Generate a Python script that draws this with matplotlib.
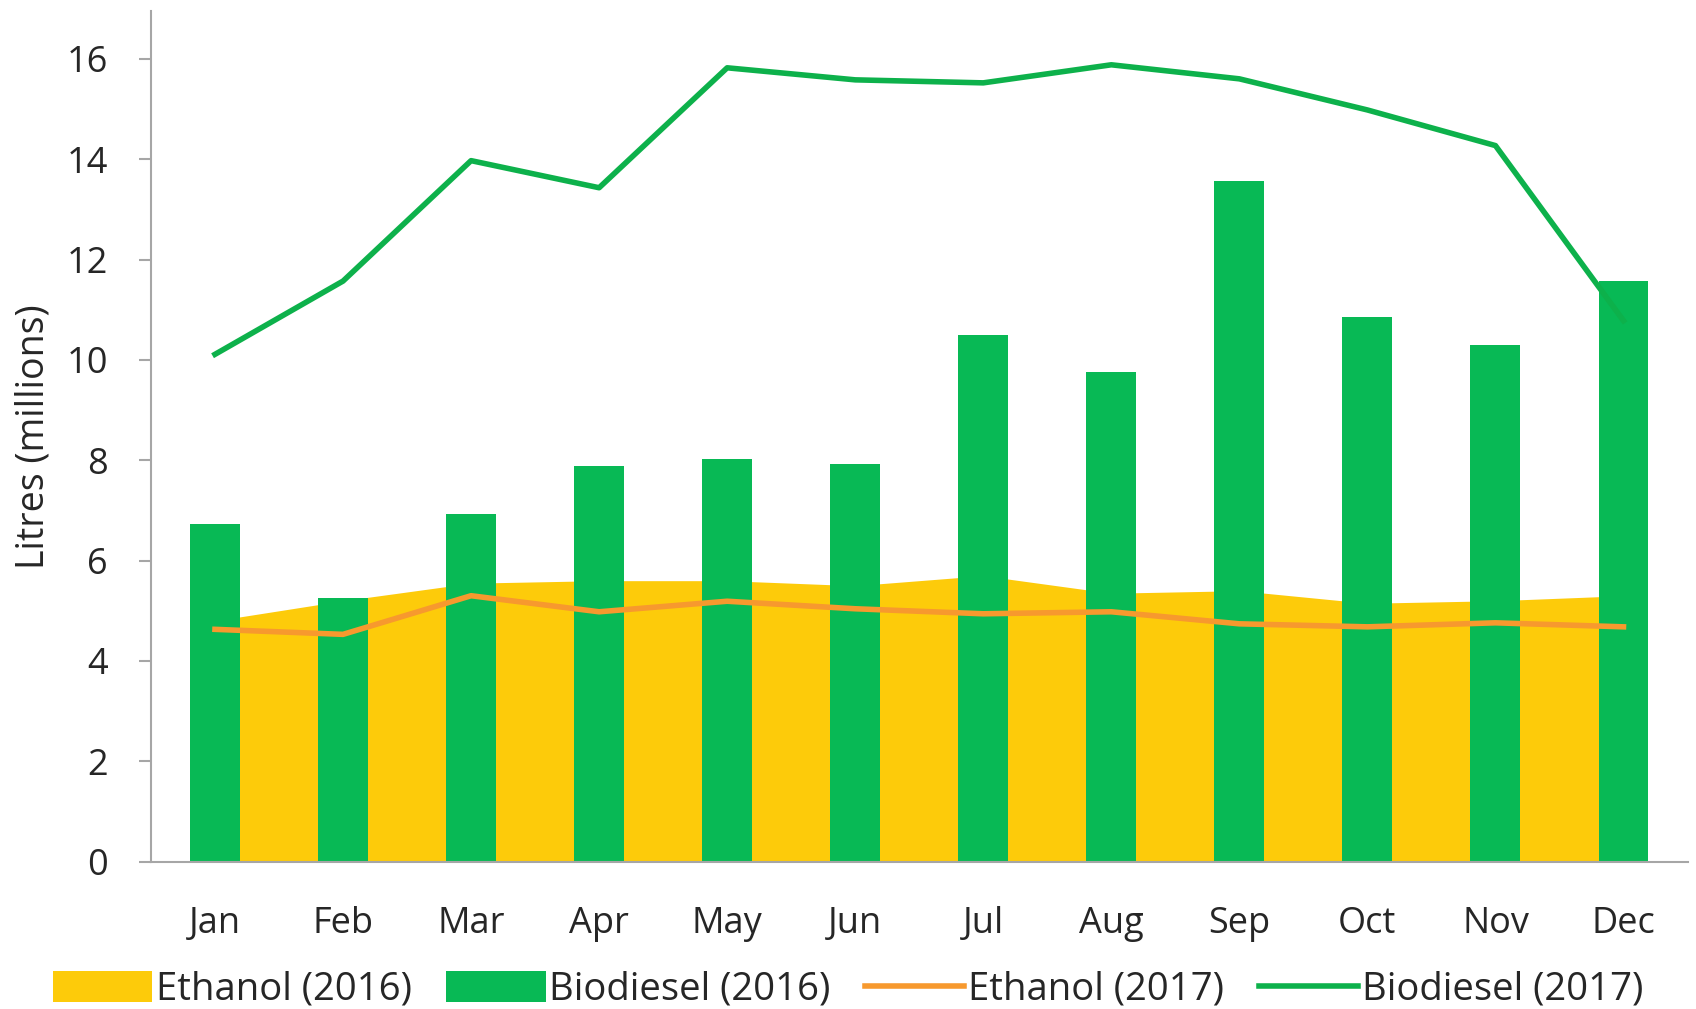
import matplotlib.pyplot as plt
import numpy as np

plt.rcParams['font.family'] = ['Open Sans', 'DejaVu Sans']

months = ['Jan', 'Feb', 'Mar', 'Apr', 'May', 'Jun', 'Jul', 'Aug', 'Sep', 'Oct', 'Nov', 'Dec']
ethanol_2016 = [4.8, 5.2, 5.55, 5.6, 5.6, 5.5, 5.7, 5.35, 5.4, 5.15, 5.2, 5.3]
biodiesel_2016 = [6.72, 5.26, 6.92, 7.89, 8.02, 7.93, 10.50, 9.76, 13.56, 10.86, 10.30, 11.57]
ethanol_2017 = [4.63, 4.53, 5.30, 4.98, 5.19, 5.04, 4.94, 4.98, 4.74, 4.68, 4.76, 4.68]
biodiesel_2017 = [10.11, 11.57, 13.97, 13.43, 15.82, 15.58, 15.52, 15.88, 15.60, 14.98, 14.27, 10.78]

yellow = '#FDCB0A'
green = '#08B955'
orange = '#F7992E'
green_line = '#0DB14B'

fig = plt.figure(figsize=(16.96, 10.09), dpi=100)
ax = fig.add_axes([0.089, 0.146, 0.906, 0.843])

x = np.arange(len(months))

h_eth16 = ax.fill_between(x, ethanol_2016, 0, color=yellow, linewidth=0, label='Ethanol (2016)', zorder=1)
h_bio16 = ax.bar(x, biodiesel_2016, width=0.39, color=green, label='Biodiesel (2016)', zorder=2)
h_eth17, = ax.plot(x, ethanol_2017, color=orange, linewidth=4, label='Ethanol (2017)', zorder=3)
h_bio17, = ax.plot(x, biodiesel_2017, color=green_line, linewidth=4, label='Biodiesel (2017)', zorder=3)

ax.set_xlim(-0.5, 11.5)
ax.set_ylim(0, 16.95)
ax.set_yticks(range(0, 17, 2))
ax.set_xticks(x)
ax.set_xticklabels(months)

ax.spines['top'].set_visible(False)
ax.spines['right'].set_visible(False)
ax.spines['left'].set_color('#A6A6A6')
ax.spines['bottom'].set_color('#A6A6A6')
ax.spines['left'].set_linewidth(1.5)
ax.spines['bottom'].set_linewidth(1.5)

ax.tick_params(axis='y', labelsize=26, color='#A6A6A6', length=9, width=1.5, pad=22, labelcolor='#262626')
ax.tick_params(axis='x', labelsize=26, length=0, pad=32, labelcolor='#262626')

ax.set_ylabel('Litres (millions)', fontsize=27, color='#262626', labelpad=10)

fig.legend([h_eth16, h_bio16, h_eth17, h_bio17],
           ['Ethanol (2016)', 'Biodiesel (2016)', 'Ethanol (2017)', 'Biodiesel (2017)'],
           loc='center', bbox_to_anchor=(0.5, 0.019), ncol=4, frameon=False,
           fontsize=27.5, handlelength=2.6, handleheight=0.85, handletextpad=0.1,
           columnspacing=0.9, labelcolor='#262626', borderpad=0)

plt.savefig('out.png', dpi=100)
